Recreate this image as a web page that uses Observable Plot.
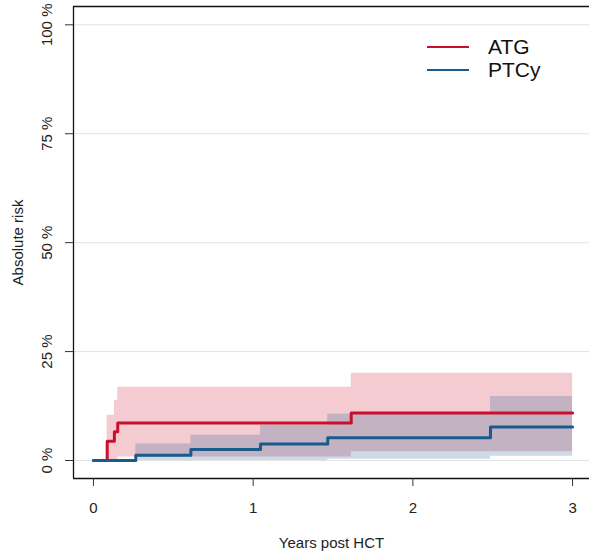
<!DOCTYPE html>
<html>
<head>
<meta charset="utf-8">
<script src="https://cdn.jsdelivr.net/npm/d3@7"></script>
<script src="https://cdn.jsdelivr.net/npm/@observablehq/plot@0.6"></script>
<style>
  html, body { margin: 0; padding: 0; background: #fff; }
  #wrap { position: relative; width: 589px; height: 552px; overflow: hidden; font-family: "Liberation Sans", Arial, sans-serif; }
  #legend { position: absolute; left: 427px; top: 35px; font-size: 21px; color: #111; }
  .item { display: flex; align-items: center; height: 23.5px; }
  .swatch { width: 42px; height: 0; border-top: 2px solid; margin-right: 19px; }
</style>
</head>
<body>
<div id="wrap"><div id="legend"></div></div>
<script>
// Series names and colours
const groups = ["ATG", "PTCy"];
const colors = ["#c8102e", "#1a5a8c"];

// ATG cumulative incidence (years, %)
const atgTime  = [0, 0.086, 0.131, 0.152, 1.614, 3.0];
const atgRisk  = [0, 4.4, 6.6, 8.6, 10.9, 10.9];
const atgLower = [0, 0, 0, 0.8, 2.0, 2.0];
const atgUpper = [0, 10.4, 13.8, 16.8, 20.0, 20.0];

// PTCy cumulative incidence (years, %)
const ptcyTime  = [0, 0.265, 0.61, 1.046, 1.467, 2.486, 3.0];
const ptcyRisk  = [0, 1.2, 2.5, 3.8, 5.2, 7.7, 7.7];
const ptcyLower = [0, 0, 0, 0, 0.3, 1.0, 1.0];
const ptcyUpper = [0, 3.8, 5.8, 8.1, 10.6, 14.7, 14.7];

// Axis ticks
const xTicks = [0, 1, 2, 3];
const yTicks = [0, 25, 50, 75, 100];
const xDomain = [-0.125, 3.106];
const yDomain = [-4.13, 104.2];

const rows = (g, t, r, lo, hi) => t.map((d, i) => ({group: g, time: d, risk: r[i], lower: lo[i], upper: hi[i]}));
const atg = rows("ATG", atgTime, atgRisk, atgLower, atgUpper);
const ptcy = rows("PTCy", ptcyTime, ptcyRisk, ptcyLower, ptcyUpper);

const plot = Plot.plot({
  width: 589,
  height: 552,
  marginLeft: 73,
  marginRight: 0,
  marginTop: 6,
  marginBottom: 74,
  style: {fontFamily: "Liberation Sans, Arial, sans-serif", fontSize: "14px", color: "#222", background: "#fff"},
  x: {domain: xDomain},
  y: {domain: yDomain},
  color: {domain: groups, range: colors},
  marks: [
    Plot.gridY(yTicks, {stroke: "#e3e3e3", strokeOpacity: 1, strokeWidth: 1}),
    Plot.areaY(atg, {x: "time", y1: "lower", y2: "upper", curve: "step-after", fill: colors[0], fillOpacity: 0.22}),
    Plot.areaY(ptcy, {x: "time", y1: "lower", y2: "upper", curve: "step-after", fill: colors[1], fillOpacity: 0.22}),
    Plot.line(atg, {x: "time", y: "risk", curve: "step-after", stroke: colors[0], strokeWidth: 3}),
    Plot.line(ptcy, {x: "time", y: "risk", curve: "step-after", stroke: colors[1], strokeWidth: 3}),
    Plot.ruleX([xDomain[0]], {stroke: "#111", strokeWidth: 1.3}),
    Plot.ruleY([yDomain[0], yDomain[1]], {stroke: "#111", strokeWidth: 1.3}),
    Plot.axisX(xTicks, {tickSize: 8, tickPadding: 16, stroke: "#333", fontSize: 15, tickFormat: d => String(d), label: "Years post HCT", labelAnchor: "center", labelArrow: "none", labelOffset: 69}),
    Plot.axisY(yTicks, {tickSize: 8, tickPadding: 14, tickRotate: -90, stroke: "#333", fontSize: 15, tickFormat: d => d + " %", label: "Absolute risk", labelAnchor: "center", labelArrow: "none", labelOffset: 61})
  ]
});
document.getElementById("wrap").prepend(plot);

const legend = document.getElementById("legend");
groups.forEach((g, i) => {
  const item = document.createElement("div");
  item.className = "item";
  const sw = document.createElement("div");
  sw.className = "swatch";
  sw.style.borderColor = colors[i];
  const tx = document.createElement("span");
  tx.textContent = g;
  item.appendChild(sw);
  item.appendChild(tx);
  legend.appendChild(item);
});
</script>
</body>
</html>
